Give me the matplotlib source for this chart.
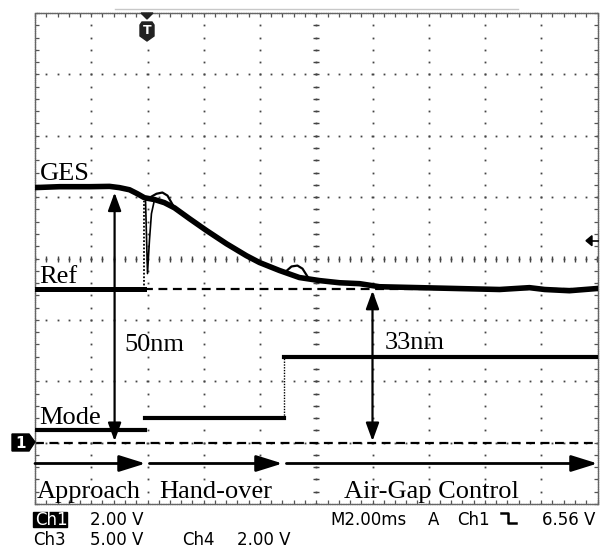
import numpy as np
import matplotlib
matplotlib.use('Agg')
import matplotlib.pyplot as plt
from matplotlib.patches import Polygon, Rectangle
from matplotlib.lines import Line2D

W, H = 600, 552

# screen: 2 ms/div, 2 V/div on Ch1, trigger at t = 0
T_MIN, T_MAX = -4.0, 16.0
V_MIN, V_MAX = -2.0, 14.0

# GES trace (ms, V)
ges_t = [-4.02, -3.13, -2.06, -1.35, -1.00, -0.64, -0.36, -0.11, 0.25, 0.60,
         0.96, 1.49, 2.10, 2.81, 3.52, 3.98, 4.69, 5.40, 6.12, 6.83, 7.54,
         8.25, 9.67, 11.09, 12.52, 13.58, 14.12, 15.00, 15.96]
ges_v = [8.31, 8.34, 8.34, 8.35, 8.31, 8.24, 8.11, 7.98, 7.92, 7.82,
         7.65, 7.30, 6.91, 6.48, 6.09, 5.87, 5.61, 5.38, 5.28, 5.21, 5.18,
         5.08, 5.05, 5.02, 4.99, 5.05, 4.99, 4.95, 5.02]

# spots where the two sensor traces separate
loop1_t = [0.07, 0.32, 0.53, 0.71, 0.89]
loop1_v = [7.98, 8.11, 8.15, 8.05, 7.76]
loop2_t = [4.91, 5.12, 5.33, 5.51, 5.69]
loop2_v = [5.57, 5.74, 5.77, 5.67, 5.41]
spike_t = [-0.07, 0.00, 0.07, 0.14, 0.25]
spike_v = [7.89, 5.51, 6.60, 7.46, 7.92]

# Ref trace
ref_t = [-4.02, -0.14]
ref_v = [5.00, 5.00]
ref_jump_t = [-0.14, -0.14]
ref_jump_v = [5.00, 7.89]
ref_level = 5.0

# Mode trace, one level per phase
mode_start = [-4.02, -0.08, 4.87]
mode_end = [-0.08, 4.87, 16.0]
mode_v = [0.42, 0.81, 2.80]

# phases
phases = ['Approach', 'Hand-over', 'Air-Gap Control']
phase_start = [-4.0, 0.07, 4.94]
phase_end = [-0.07, 4.80, 16.0]
phase_text_t = [-3.93, 0.43, 7.0]
phase_v = -0.68

# air gap measurements
gap_t = [-1.17, 8.0]
gap_top = [8.15, 4.95]
gap_labels = ['50nm', '33nm']
gap_label_t = [-0.82, 8.43]
gap_label_v = [3.0, 3.06]

trig_level = 6.56

status_row1 = [('2.00 V', 90), ('M2.00ms', 330), ('A', 428), ('Ch1', 457), ('6.56 V', 542)]
status_row2 = [('Ch3', 33), ('5.00 V', 90), ('Ch4', 182), ('2.00 V', 237)]


def fxy(px, py):
    return (px / W, 1 - py / H)


fig = plt.figure(figsize=(W / 100, H / 100), dpi=100)
fig.patch.set_facecolor('white')
ax = fig.add_axes([35 / W, (H - 504) / H, 562.5 / W, 491 / H])
ax.set_xlim(T_MIN, T_MAX)
ax.set_ylim(V_MIN, V_MAX)

# graticule
for s in ax.spines.values():
    s.set_color('#666666')
    s.set_linewidth(1.0)
    s.set_linestyle((0, (1, 0.6)))
ax.set_xticks(np.arange(T_MIN, T_MAX + 0.01, 2.0))
ax.set_xticks(np.arange(T_MIN, T_MAX + 0.01, 0.4), minor=True)
ax.set_yticks(np.arange(V_MIN, V_MAX + 0.01, 2.0))
ax.set_yticks(np.arange(V_MIN, V_MAX + 0.01, 0.4), minor=True)
ax.tick_params(which='both', direction='in', top=True, right=True, length=3,
               width=0.9, color='#555555', labelbottom=False, labelleft=False)

dot_y = np.arange(V_MIN, V_MAX + 0.01, 0.4)
dot_x = np.arange(T_MIN, T_MAX + 0.01, 0.4)
for xv in np.arange(T_MIN + 2, T_MAX - 0.1, 2.0):
    ax.plot(np.full(len(dot_y), xv), dot_y, ls='none', marker='s', ms=1.3,
            color='#444444', mew=0, zorder=1)
for yv in np.arange(V_MIN + 2, V_MAX - 0.1, 2.0):
    ax.plot(dot_x, np.full(len(dot_x), yv), ls='none', marker='s', ms=1.3,
            color='#444444', mew=0, zorder=1)
ax.plot(dot_x, np.full(len(dot_x), 6.0), ls='none', marker='|', ms=4,
        color='#444444', mew=1, zorder=1)
ax.plot(np.full(len(dot_y), 6.0), dot_y, ls='none', marker='_', ms=4,
        color='#444444', mew=1, zorder=1)

# reference lines
ax.axhline(0.0, color='k', lw=1.6, ls=(0, (4, 2.5)), zorder=2)
ax.plot([ref_t[-1], T_MAX], [ref_level, ref_level], color='k', lw=1.6,
        ls=(0, (4, 2.5)), zorder=2)

# traces
ax.plot(ges_t, ges_v, color='k', lw=4.0, solid_joinstyle='round', zorder=4)
ax.plot(loop1_t, loop1_v, color='k', lw=1.6, zorder=4)
ax.plot(loop2_t, loop2_v, color='k', lw=1.6, zorder=4)
ax.plot(spike_t, spike_v, color='k', lw=1.2, zorder=4)
ax.plot(ref_t, ref_v, color='k', lw=3.6, zorder=4)
ax.plot(ref_jump_t, ref_jump_v, color='k', lw=1.3, ls=(0, (1, 1)), zorder=4)
for a, b, v in zip(mode_start, mode_end, mode_v):
    ax.plot([a, b], [v, v], color='k', lw=3.0, zorder=4)
ax.plot([mode_start[2]] * 2, [mode_v[1], mode_v[2]], color='k', lw=1.0,
        ls=(0, (1, 1)), zorder=4)

serif = ['Liberation Serif', 'DejaVu Serif']
fs = 19

# trace names
ax.text(-3.84, 8.57, 'GES', family=serif, fontsize=fs, va='baseline', zorder=6)
ax.text(-3.84, 5.21, 'Ref', family=serif, fontsize=fs, va='baseline', zorder=6)
ax.text(-3.84, 0.62, 'Mode', family=serif, fontsize=fs, va='baseline', zorder=6)

# air gap arrows
for t, top, lab, lt, lv in zip(gap_t, gap_top, gap_labels, gap_label_t, gap_label_v):
    ax.annotate('', xy=(t, top), xytext=(t, 0.05),
                arrowprops=dict(arrowstyle='<|-|>,head_length=0.55,head_width=0.2',
                                mutation_scale=20, lw=1.6, color='k',
                                shrinkA=0, shrinkB=0), zorder=5)
    ax.text(lt, lv, lab, family=serif, fontsize=fs, va='baseline', zorder=6)

# phase arrows
for name, a, b, tt in zip(phases, phase_start, phase_end, phase_text_t):
    ax.annotate('', xy=(b, phase_v), xytext=(a, phase_v),
                arrowprops=dict(arrowstyle='-|>,head_length=0.8,head_width=0.25',
                                mutation_scale=20, lw=2.0, color='k',
                                shrinkA=0, shrinkB=0), zorder=5)
    ax.text(tt, -1.79, name, family=serif, fontsize=fs, va='baseline', zorder=6)

# trigger position marker
fig.patches.append(Polygon([fxy(141, 13), fxy(153, 13), fxy(147, 19)],
                           closed=True, color='#222222', transform=fig.transFigure))
fig.patches.append(Polygon([fxy(140, 25), fxy(142, 22), fxy(152, 22), fxy(154, 25),
                            fxy(154, 36), fxy(147, 41), fxy(140, 36)],
                           closed=True, color='#222222', transform=fig.transFigure))
fig.text(*fxy(147, 31), 'T', color='white', fontsize=9, fontweight='bold',
         ha='center', va='center')

# channel 1 ground marker
fig.patches.append(Polygon([fxy(12, 434), fxy(29, 434), fxy(35, 442), fxy(29, 451),
                            fxy(12, 451)], closed=True, color='black',
                           transform=fig.transFigure))
fig.text(*fxy(21, 443), '1', color='white', fontsize=11, fontweight='bold',
         ha='center', va='center')

# trigger level marker
py_trig = 442 - trig_level / 2 * 61.375
fig.patches.append(Polygon([fxy(586, py_trig), fxy(592, py_trig - 5),
                            fxy(592, py_trig + 5)], closed=True, color='black',
                           transform=fig.transFigure))
fig.lines.append(Line2D([592 / W, 598 / W], [1 - py_trig / H] * 2, color='black',
                        lw=1.2, transform=fig.transFigure))

# top status line
fig.lines.append(Line2D([115 / W, 518 / W], [1 - 9 / H] * 2, color='#c8c8c8',
                        lw=1.0, transform=fig.transFigure))

# status readout
mono = ['DejaVu Sans']
fig.patches.append(Rectangle(fxy(33, 527), 34 / W, 15 / H, color='black',
                             transform=fig.transFigure))
fig.text(*fxy(35, 525), 'Ch1', color='white', family=mono, fontsize=12,
         va='baseline')
for s, px in status_row1:
    fig.text(*fxy(px, 525), s, family=mono, fontsize=12, va='baseline')
for s, px in status_row2:
    fig.text(*fxy(px, 545), s, family=mono, fontsize=12, va='baseline')
edge = [(501, 513), (508, 513), (508, 523), (516, 523)]
fig.lines.append(Line2D([p[0] / W for p in edge], [1 - p[1] / H for p in edge],
                        color='black', lw=1.8, transform=fig.transFigure))

fig.savefig('out.png', dpi=100)
